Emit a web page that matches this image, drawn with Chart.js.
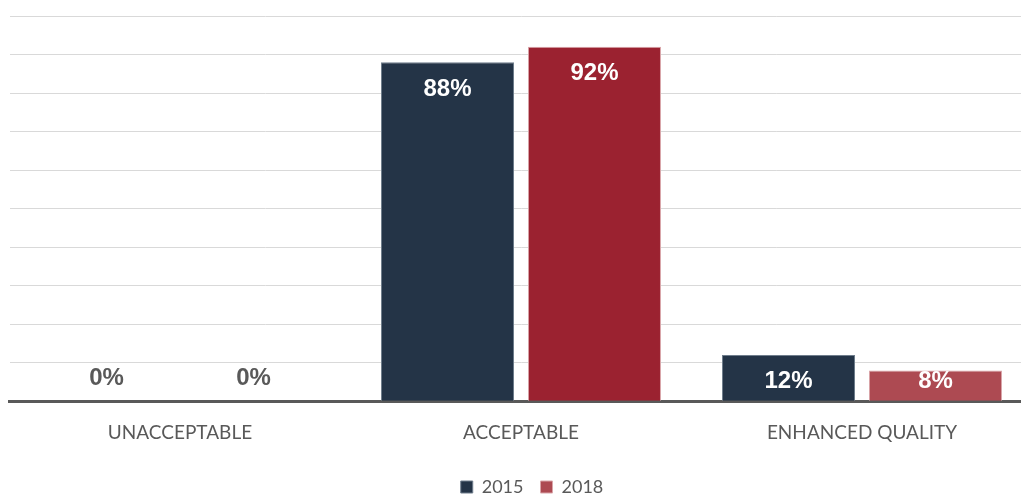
<!DOCTYPE html>
<html>
<head>
<meta charset="utf-8">
<script src="https://cdn.jsdelivr.net/npm/chart.js@4.4.1/dist/chart.umd.min.js"></script>
<style>
  body { margin: 0; background: #fff; overflow: hidden; }
  #wrap { position: relative; width: 1033px; height: 495px; }
</style>
</head>
<body>
<div id="wrap"><canvas id="mycanvas"></canvas></div>
<script>
var categories = ['UNACCEPTABLE', 'ACCEPTABLE', 'ENHANCED QUALITY'];
var values2015 = [0, 88, 12];
var values2018 = [0, 92, 8];
var seriesNames = ['2015', '2018'];

// draws the % labels on the bars (no datalabels plugin here)
var barLabels = {
	id: 'barLabels',
	afterDatasetsDraw: function(chart) {
		var ctx = chart.ctx;
		var base = chart.chartArea.bottom;
		ctx.save();
		ctx.textAlign = 'center';
		ctx.textBaseline = 'middle';
		ctx.font = 'bold 24px "Liberation Sans", Arial, sans-serif';
		chart.data.datasets.forEach(function(ds, i) {
			var meta = chart.getDatasetMeta(i);
			meta.data.forEach(function(bar, j) {
				var v = ds.data[j];
				var y;
				if (v === 0) {
					ctx.fillStyle = '#595959';
					y = base - 23;
				} else {
					ctx.fillStyle = '#ffffff';
					y = Math.min(bar.y + 27, base - 20);
				}
				ctx.fillText(v + '%', bar.x, y);
			});
		});
		ctx.restore();
	}
};

// nudge the legend lower and a bit right without shrinking the plot
var legendShift = {
	id: 'legendShift',
	afterLayout: function(chart) {
		chart.legend.top += 5;
		chart.legend.bottom += 5;
		chart.legend.left += 11;
		chart.legend.right += 11;
	}
};

var chartdata = {
	labels: categories,
	datasets: [
		{
			label: seriesNames[0],
			backgroundColor: '#243447',
			borderColor: '#6f7d8c',
			borderWidth: 1,
			data: values2015
		},
		{
			label: seriesNames[1],
			backgroundColor: ['#AD4A52', '#9B2230', '#AD4A52'],
			borderColor: ['#d9a5a9', '#d9a5a9', '#d9a5a9'],
			borderWidth: 1,
			data: values2018
		}
	]
};

var ctx = document.getElementById('mycanvas');

var barGraph = new Chart(ctx, {
	type: 'bar',
	data: chartdata,
	plugins: [barLabels, legendShift],
	options: {
		responsive: true,
		maintainAspectRatio: false,
		animation: false,
		layout: { padding: { left: 9.5, right: 0.5, top: 16, bottom: -6 } },
		datasets: { bar: { categoryPercentage: 0.862, barPercentage: 0.905 } },
		plugins: {
			tooltip: { enabled: false },
			legend: {
				position: 'bottom',
				labels: {
					boxWidth: 12,
					boxHeight: 12,
					padding: 17,
					color: '#595959',
					font: { family: 'Lato, "Open Sans", sans-serif', size: 18 }
				}
			}
		},
		scales: {
			x: {
				grid: { display: false },
				border: { display: true, color: '#595959', width: 3 },
				ticks: {
					color: '#595959',
					padding: 12,
					font: { family: 'Lato, "Open Sans", sans-serif', size: 19 }
				}
			},
			y: {
				min: 0,
				max: 100,
				ticks: { display: false, stepSize: 10 },
				border: { display: false },
				grid: { color: '#d9d9d9', drawTicks: false }
			}
		}
	}
});
</script>
</body>
</html>
